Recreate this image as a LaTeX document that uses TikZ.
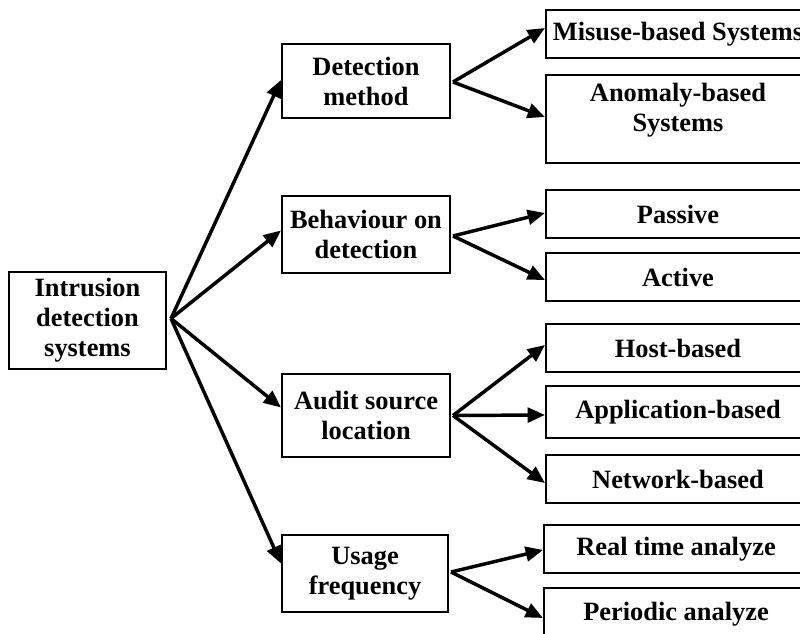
\documentclass[tikz,border=0pt]{standalone}
\usepackage{fontspec}
\setmainfont{Liberation Serif}
\usetikzlibrary{arrows.meta,calc}
\tikzset{
  box/.style={draw=black, line width=1.5pt, inner sep=0pt, align=center,
    font=\fontsize{19.8}{22.5}\selectfont\bfseries},
  leaf/.style={box, minimum width=198pt, minimum height=36pt},
  mid/.style={box, minimum width=126pt},
  txt/.style={inner sep=0pt, align=center, font=\fontsize{19.8}{22.5}\selectfont\bfseries},
  arr/.style={line width=2.6pt, -{Triangle[length=13pt,width=11pt]}}
}
\begin{document}
\begin{tikzpicture}[x=0.75pt,y=-0.75pt]
\useasboundingbox (0,0) rectangle (800,634);
\clip (0,0) rectangle (800,634);
% root
\node[box, minimum width=117.75pt, minimum height=72.75pt] (root) at (87.5,320.5) {Intrusion\\detection\\systems};
% middle level
\node[mid, minimum height=55.5pt] (det) at (366,81) {Detection\\method};
\node[mid, minimum height=57.75pt] (beh) at (366,234.5) {Behaviour on\\detection};
\node[mid, minimum height=62.25pt] (aud) at (366,415.5) {Audit source\\location};
\node[box, minimum width=124.5pt, minimum height=57.75pt] (usa) at (365,573.5) {Usage\\frequency};
% leaves
\node[leaf] (mis) at (678,34) {Misuse-based Systems};
\node[leaf, minimum height=66pt] (ano) at (678,119) {};
\node[txt] (anotxt) at ($(ano.center)+(0,-9)$) {Anomaly-based\\Systems};
\node[leaf] (pas) at (678,214) {Passive};
\node[leaf] (act) at (678,277) {Active};
\node[leaf] (hos) at (678,348) {Host-based};
\node[leaf, minimum height=39pt] (app) at (678,412) {Application-based};
\node[leaf] (net) at (678,479) {Network-based};
\node[leaf] (rea) at (676,549) {Real time analyze};
\node[leaf, minimum height=39pt] (per) at (676,614) {Periodic analyze};
% apex coordinates
\coordinate (r0) at ($(root.east)+(4,-2)$);
\coordinate (d0) at ($(det.east)+(2,1)$);
\coordinate (b0) at ($(beh.east)+(2,1.5)$);
\coordinate (a0) at ($(aud.east)+(2,0)$);
\coordinate (u0) at ($(usa.east)+(2,-1.5)$);
% arrows from root
\draw[arr] (r0) -- ($(det.west)+(0,-1)$);
\draw[arr] (r0) -- ($(beh.west)+(0,-4)$);
\draw[arr] (r0) -- ($(aud.west)+(0,-8)$);
\draw[arr] (r0) -- ($(usa.west)+(0,-10)$);
% arrows to leaves
\draw[arr] (d0) -- ($(mis.west)+(0,-6)$);
\draw[arr] (d0) -- ($(ano.west)+(0,-2)$);
\draw[arr] (b0) -- ($(pas.west)+(0,-1)$);
\draw[arr] (b0) -- ($(act.west)+(0,3)$);
\draw[arr] (a0) -- ($(hos.west)+(0,-3)$);
\draw[arr] (a0) -- ($(app.west)+(0,3)$);
\draw[arr] (a0) -- ($(net.west)+(0,4)$);
\draw[arr] (u0) -- ($(rea.west)+(0,1)$);
\draw[arr] (u0) -- ($(per.west)+(0,4)$);
\end{tikzpicture}
\end{document}
